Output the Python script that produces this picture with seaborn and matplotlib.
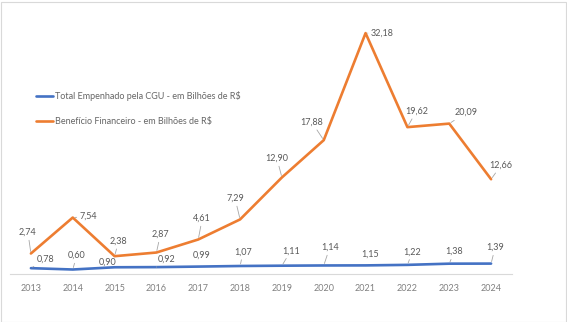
import matplotlib
matplotlib.use("Agg")
import matplotlib.pyplot as plt
from matplotlib.patches import Rectangle
import pandas as pd
import seaborn as sns

anos = [2013, 2014, 2015, 2016, 2017, 2018, 2019, 2020, 2021, 2022, 2023, 2024]
empenhado = [0.78, 0.60, 0.90, 0.92, 0.99, 1.07, 1.11, 1.14, 1.15, 1.22, 1.38, 1.39]
beneficio = [2.74, 7.54, 2.38, 2.87, 4.61, 7.29, 12.90, 17.88, 32.18, 19.62, 20.09, 12.66]
serie_empenhado = "Total Empenhado pela CGU - em Bilhões de R$"
serie_beneficio = "Benefício Financeiro - em Bilhões de R$"

# label offsets (pixels) relative to each point
off_emp = [(15, 9), (4, 14), (-7, 5), (10, 8), (3, 11), (3, 14),
           (9, 15), (6, 18), (4, 11), (5, 13), (5, 12), (4, 16)]
off_ben = [(-3, 21), (16, 1), (4, 15), (4, 18), (4, 21), (-5, 21),
           (-5, 19), (-12, 18), (17, 0), (9, 16), (17, 11), (10, 14)]

df = pd.DataFrame({
    "ano": anos * 2,
    "valor": empenhado + beneficio,
    "serie": [serie_empenhado] * len(anos) + [serie_beneficio] * len(anos),
})

sns.set_theme(style="white")
plt.rcParams["font.family"] = ["Lato", "DejaVu Sans"]

fig = plt.figure(figsize=(5.67, 3.22), dpi=100)
ax = fig.add_axes([10 / 567, 48 / 322, 502 / 567, 262 / 322])

cores = {serie_empenhado: "#4472C4", serie_beneficio: "#ED7D31"}
sns.lineplot(data=df, x="ano", y="valor", hue="serie", palette=cores,
             linewidth=1.9, ax=ax, legend=True)

ax.set_xlim(2012.5, 2024.5)
ax.set_ylim(0, 35)
ax.set_xticks(anos)
ax.set_xticklabels([str(a) for a in anos], fontsize=6.5, color="#808080")
ax.set_yticks([])
ax.set_xlabel("")
ax.set_ylabel("")
ax.tick_params(axis="x", length=0, pad=7)
for s in ["top", "left", "right"]:
    ax.spines[s].set_visible(False)
ax.spines["bottom"].set_color("#d9d9d9")
ax.spines["bottom"].set_linewidth(0.8)


def fmt(v):
    return f"{v:.2f}".replace(".", ",")


def rotular(valores, offsets):
    for a, v, (dx, dy) in zip(anos, valores, offsets):
        dist = (dx ** 2 + dy ** 2) ** 0.5
        arrow = dict(arrowstyle="-", color="#a6a6a6", lw=0.6,
                     shrinkA=0, shrinkB=1.5) if dist > 12 else None
        ax.annotate(fmt(v), xy=(a, v), xytext=(dx, dy),
                    textcoords="offset pixels", ha="center", va="center",
                    fontsize=6.5, color="#595959", arrowprops=arrow)


rotular(empenhado, off_emp)
rotular(beneficio, off_ben)

leg = ax.legend(loc="upper left", bbox_to_anchor=(36 / 567, 1 - 91 / 322),
                bbox_transform=fig.transFigure, frameon=False, fontsize=6.5,
                handlelength=1.9, handletextpad=0.25, labelspacing=1.75,
                borderaxespad=0, borderpad=0)
for t in leg.get_texts():
    t.set_color("#666666")
for h in leg.get_lines():
    h.set_linewidth(1.9)

fig.patches.append(Rectangle((0.5 / 567, 0.5 / 322), 1 - 2 / 567, 1 - 2 / 322,
                             transform=fig.transFigure, fill=False,
                             edgecolor="#d9d9d9", linewidth=0.8))

fig.savefig("out.png", dpi=100)
